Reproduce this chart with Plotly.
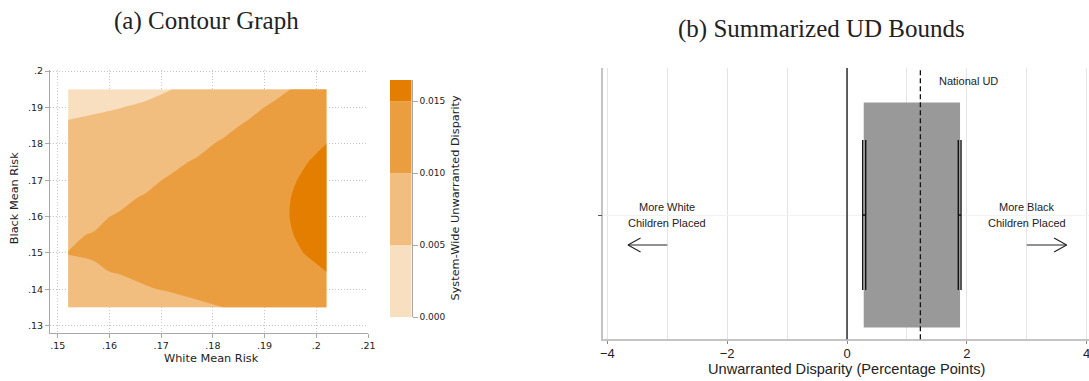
import numpy as np
import plotly.graph_objects as go

W, H = 1089, 381

# ---------------- panel (a): contour data ----------------
white_risk = [0.152, 0.157, 0.162, 0.167, 0.172, 0.177, 0.182, 0.187, 0.192, 0.197, 0.202]
black_risk = [0.135, 0.140, 0.145, 0.150, 0.155, 0.160, 0.165, 0.170, 0.175, 0.180, 0.185, 0.190, 0.195]

# system-wide unwarranted disparity, in thousandths (rows = black risk, cols = white risk)
ud_thousandths = [
    [9.16, 9.03, 9.07, 9.26, 9.42, 9.67, 9.99, 10.44, 11.30, 12.43, 12.87],
    [9.63, 9.56, 9.67, 9.90, 10.12, 10.44, 10.88, 11.41, 12.38, 13.47, 14.07],
    [9.91, 9.91, 10.07, 10.34, 10.62, 11.01, 11.54, 12.16, 13.22, 14.30, 15.03],
    [10.01, 10.07, 10.28, 10.58, 10.93, 11.38, 12.00, 12.69, 13.84, 14.91, 15.75],
    [9.91, 10.04, 10.29, 10.63, 11.05, 11.55, 12.24, 13.01, 14.23, 15.30, 16.23],
    [9.63, 9.82, 10.11, 10.49, 10.97, 11.52, 12.28, 13.12, 14.39, 15.47, 16.47],
    [9.16, 9.40, 9.74, 10.15, 10.70, 11.29, 12.10, 13.01, 14.32, 15.43, 16.47],
    [8.51, 8.80, 9.17, 9.62, 10.23, 10.86, 11.72, 12.69, 14.02, 15.17, 16.23],
    [7.67, 8.01, 8.40, 8.89, 9.58, 10.23, 11.13, 12.15, 13.50, 14.69, 15.74],
    [6.64, 7.03, 7.44, 7.96, 8.72, 9.40, 10.32, 11.39, 12.74, 13.99, 15.02],
    [5.43, 5.85, 6.29, 6.84, 7.67, 8.37, 9.31, 10.42, 11.76, 13.08, 14.05],
    [4.03, 4.49, 4.94, 5.53, 6.43, 7.14, 8.08, 9.24, 10.55, 11.95, 12.85],
    [2.44, 2.94, 3.40, 4.02, 4.98, 5.71, 6.65, 7.84, 9.11, 10.60, 11.40],
]
contour_levels = [0.0, 0.005, 0.010, 0.015]
band_colors = ["#F8DFBF", "#F1BE80", "#EA9E40", "#E37E00"]

x_ticks = [0.15, 0.16, 0.17, 0.18, 0.19, 0.20, 0.21]
x_ticklabels = [".15", ".16", ".17", ".18", ".19", ".2", ".21"]
y_ticks = [0.13, 0.14, 0.15, 0.16, 0.17, 0.18, 0.19, 0.20]
y_ticklabels = [".13", ".14", ".15", ".16", ".17", ".18", ".19", ".2"]

# ---------------- panel (b): UD bounds ----------------
ud_lower, ud_upper = 0.279, 1.886
ci_lower = [0.262, 0.312]
ci_upper = [1.857, 1.902]
national_ud = 1.224
bx_ticks = [-4, -2, 0, 2, 4]

ud = np.array(ud_thousandths) / 1000.0
zmax = float(ud.max())


def px(p):
    return p / W


def py(p):
    return 1 - p / H


SANS_A = "DejaVu Sans"
SANS_B = "Liberation Sans"
SERIF = "Liberation Serif"

# stepped colour scale: one flat colour per band
nb = len(band_colors)
cscale = []
for i, c in enumerate(band_colors):
    cscale.append([i / nb, c])
    cscale.append([(i + 1) / nb, c])

fig = go.Figure()

fig.add_trace(go.Contour(
    x=white_risk, y=black_risk, z=ud,
    colorscale=cscale, showscale=False,
    contours=dict(start=contour_levels[1], end=contour_levels[-1],
                  size=contour_levels[1] - contour_levels[0],
                  coloring="fill", showlines=False),
    line=dict(width=0, smoothing=0.8),
    hoverinfo="skip",
    xaxis="x", yaxis="y",
))

# legend bar for the contour bands
band_bottoms = contour_levels
band_tops = contour_levels[1:] + [zmax]
for b0, b1, c in zip(band_bottoms, band_tops, band_colors):
    fig.add_trace(go.Bar(
        x=[0.5], y=[b1 - b0], base=[b0], width=1.0,
        marker=dict(color=c, line=dict(width=0)),
        xaxis="x3", yaxis="y3", showlegend=False, hoverinfo="skip",
    ))

# bounds box
fig.add_trace(go.Bar(
    x=[ud_upper - ud_lower], base=[ud_lower], y=[1], width=1.0,
    orientation="h", marker=dict(color="#999999", line=dict(width=0)),
    xaxis="x2", yaxis="y2", showlegend=False, hoverinfo="skip",
))

# confidence caps on each bound
cap_half = 1 / 3
for lo, hi in (ci_lower, ci_upper):
    fig.add_trace(go.Scatter(
        x=[lo, hi, None, lo, lo, None, hi, hi],
        y=[1, 1, None, 1 - cap_half, 1 + cap_half, None, 1 - cap_half, 1 + cap_half],
        mode="lines", line=dict(color="#111111", width=1.4),
        xaxis="x2", yaxis="y2", showlegend=False, hoverinfo="skip",
    ))

# direction arrows
arrow_y = 0.867
arrow_base = [-3.0, 3.0]
arrow_tip = [-3.655, 3.665]
head_dx, head_dy = 0.21, 0.031
for b, t in zip(arrow_base, arrow_tip):
    s = np.sign(t - b)
    fig.add_trace(go.Scatter(
        x=[b, t, None, t - s * head_dx, t, t - s * head_dx],
        y=[arrow_y, arrow_y, None, arrow_y + head_dy, arrow_y, arrow_y - head_dy],
        mode="lines", line=dict(color="#222222", width=1.1),
        xaxis="x2", yaxis="y2", showlegend=False, hoverinfo="skip",
    ))

grid_a = dict(showgrid=True, gridcolor="#c4c4c4", griddash="1px,2px", gridwidth=1,
              zeroline=False, showline=True, linecolor="#a8a8a8", linewidth=1,
              ticks="outside", ticklen=4, tickcolor="#a8a8a8", automargin=False,
              tickfont=dict(family=SANS_A, size=9.5, color="#222222"))

fig.update_layout(
    width=W, height=H, autosize=False,
    margin=dict(l=0, r=0, t=0, b=0, pad=0, autoexpand=False),
    paper_bgcolor="white", plot_bgcolor="white",
    showlegend=False, barmode="overlay",
    xaxis=dict(domain=[px(50), px(368)], range=[0.1485, 0.2100],
               tickvals=x_ticks, ticktext=x_ticklabels, anchor="y", **grid_a),
    yaxis=dict(domain=[py(333), py(70)], range=[0.128, 0.2003],
               tickvals=y_ticks, ticktext=y_ticklabels, anchor="x", **grid_a),
    xaxis3=dict(domain=[px(390), px(411.7)], range=[0, 1], visible=False, anchor="y3",
                automargin=False),
    yaxis3=dict(domain=[py(317.3), py(80)], range=[0, zmax], anchor="x3", side="right",
                tickvals=contour_levels, tickformat=".3f", showgrid=False, zeroline=False,
                showline=True, linecolor="#a8a8a8", linewidth=1, automargin=False,
                ticks="outside", ticklen=5, tickcolor="#a8a8a8",
                tickfont=dict(family=SANS_A, size=9, color="#222222")),
    xaxis2=dict(domain=[px(603.3), 1.0], range=[-4.067, 4.038], anchor="y2",
                tickvals=bx_ticks, ticks="outside", ticklen=3, tickcolor="#888888",
                showgrid=True, gridcolor="#e4e4e4", gridwidth=1, zeroline=False,
                minor=dict(dtick=1, showgrid=True, gridcolor="#e4e4e4", ticks=""),
                showline=True, linecolor="#c4c4c4", linewidth=1.5, automargin=False,
                ticklabeloverflow="allow", ticklabelstandoff=-2,
                tickfont=dict(family=SANS_B, size=13, color="#222222")),
    yaxis2=dict(domain=[py(339.3), py(68)], range=[0.4476, 1.6533], anchor="x2",
                tickvals=[1], ticktext=[""], ticks="outside", ticklen=4, tickcolor="#555555",
                showgrid=True, gridcolor="#f2f2f2", zeroline=False, automargin=False,
                showline=True, linecolor="#c4c4c4", linewidth=1.5),
)

# reference lines in panel (b)
fig.add_shape(type="line", xref="x2", yref="y2 domain", x0=0, x1=0, y0=0, y1=1,
              line=dict(color="#111111", width=1.3))
fig.add_shape(type="line", xref="x2", yref="y2 domain", x0=national_ud, x1=national_ud,
              y0=0, y1=1, line=dict(color="#111111", width=1.3, dash="5px,3px"))


def label(text, x, y, size, family, xref="paper", yref="paper", angle=0, xanchor="center"):
    return dict(text=text, x=x, y=y, xref=xref, yref=yref, xanchor=xanchor, yanchor="middle",
                showarrow=False, textangle=angle,
                font=dict(family=family, size=size, color="#222222"))


ann = [
    label("(a) Contour Graph", px(206.5), py(21), 25, SERIF),
    label("(b) Summarized UD Bounds", px(821.5), py(29), 25, SERIF),
    label("White Mean Risk", px(212), py(358), 11.3, SANS_A),
    label("Black Mean Risk", px(14.2), py(198), 11.3, SANS_A, angle=-90),
    label("System-Wide Unwarranted Disparity", px(455), py(198.5), 11.3, SANS_A, angle=-90),
    label("Unwarranted Disparity (Percentage Points)", px(846.5), py(369), 14.6, SANS_B),
    label("National UD", 1.5, 1.596, 11, SANS_B, "x2", "y2", xanchor="left"),
]
for xc, l1 in ((arrow_base[0], "More White"), (arrow_base[1], "More Black")):
    ann.append(label(l1, xc, 1.036, 11, SANS_B, "x2", "y2"))
    ann.append(label("Children Placed", xc, 0.964, 11, SANS_B, "x2", "y2"))
fig.update_layout(annotations=ann)

fig.write_html("out.html")
